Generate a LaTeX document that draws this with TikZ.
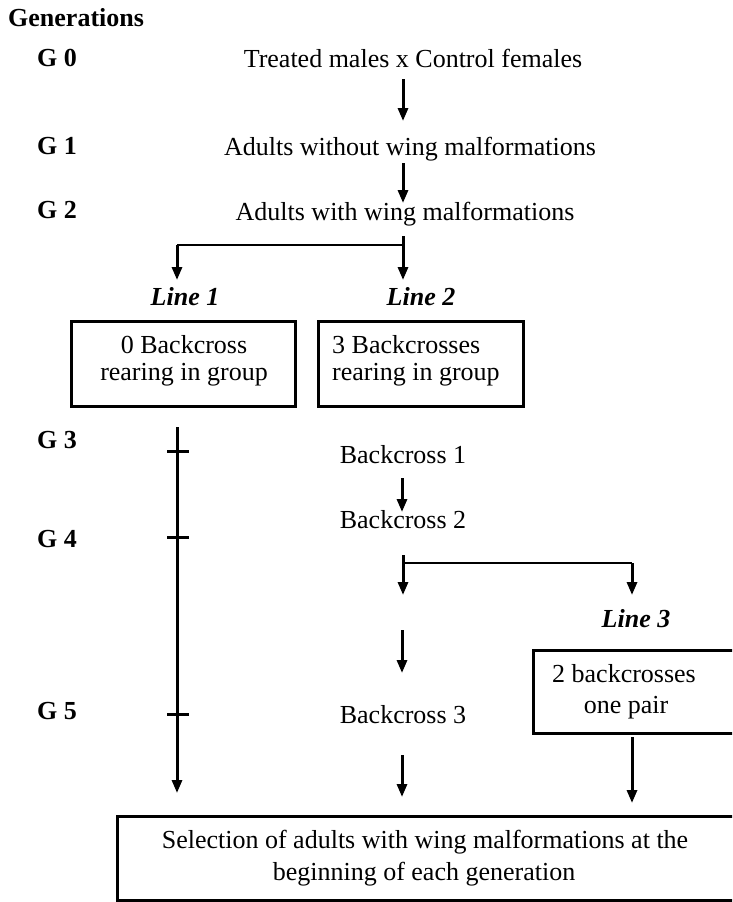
\documentclass[tikz,border=0pt]{standalone}
\usepackage{fontspec}
\setmainfont{Liberation Serif}
\usetikzlibrary{arrows.meta}
\begin{document}
\begin{tikzpicture}[x=1pt,y=-1pt,
  txt/.style={font=\fontsize{26}{30}\selectfont, inner sep=0pt, anchor=base},
  txtl/.style={txt, anchor=base west},
  gen/.style={font=\fontsize{26}{30}\selectfont\bfseries, inner sep=0pt, anchor=base west},
  linelab/.style={font=\fontsize{26}{30}\selectfont\bfseries\itshape, inner sep=0pt, anchor=base},
  framebox/.style={draw, line width=3pt, inner sep=0pt},
  arr/.style={line width=3pt, -{Triangle[width=10pt,length=13pt]}},
  thinline/.style={line width=2.5pt},
  tick/.style={line width=3pt}]
\useasboundingbox (0,0) rectangle (732,902);
\clip (0,0) rectangle (732,902);

% generation labels
\node[gen] (gens) at (8,26) {Generations};
\node[gen] (g0) at (37,66) {G 0};
\node[gen] (g1) at (37,154) {G 1};
\node[gen] (g2) at (37,218) {G 2};
\node[gen] (g3) at (37,448) {G 3};
\node[gen] (g4) at (37,547) {G 4};
\node[gen] (g5) at (37,719) {G 5};

% main texts
\node[txt] (t0) at (413,67) {Treated males x Control females};
\node[txt] (t1) at (410,155) {Adults without wing malformations};
\node[txt] (t2) at (405,220) {Adults with wing malformations};

\node[linelab] (l1) at (185,305) {Line 1};
\node[linelab] (l2) at (421,305) {Line 2};
\node[linelab] (l3) at (636,627) {Line 3};

% boxes
\node[framebox, minimum width=224pt, minimum height=85pt] (box1) at (183,364) {};
\node[framebox, minimum width=205pt, minimum height=85pt] (box2) at (420.5,364) {};
\node[framebox, minimum width=227pt, minimum height=83pt] (box3) at (646.5,691.5) {};
\node[framebox, minimum width=653pt, minimum height=84pt] (box4) at (443.5,858) {};

\node[txt] (b1a) at (184,353) {0 Backcross};
\node[txt] (b1b) at (184,380) {rearing in group};
\node[txtl] (b2a) at (332,353) {3 Backcrosses};
\node[txtl] (b2b) at (332,380) {rearing in group};
\node[txt] (b3a) at (624,682) {2 backcrosses};
\node[txt] (b3b) at (626,713) {one pair};
\node[txt] (s1) at (425,848) {Selection of adults with wing malformations at the};
\node[txt] (s2) at (424,880) {beginning of each generation};

\node[txt] (bc1) at (403,463) {Backcross 1};
\node[txt] (bc2) at (403,528) {Backcross 2};
\node[txt] (bc3) at (403,723) {Backcross 3};

% connector end points
\coordinate (a1s) at (403,79);  \coordinate (a1e) at (403,121);
\coordinate (a2s) at (403,163); \coordinate (a2e) at (403,203);
\coordinate (b1s) at (403,236); \coordinate (b1e) at (403,280);
\coordinate (b1j) at (403,245); \coordinate (b1k) at (177,245);
\coordinate (b1l) at (177,280);
\coordinate (v1s) at (177,427); \coordinate (v1e) at (177,793);
\coordinate (tk3) at (177,451); \coordinate (tk4) at (177,537);
\coordinate (tk5) at (177,714);
\coordinate (a3s) at (402,478); \coordinate (a3e) at (402,512);
\coordinate (b2s) at (403,555); \coordinate (b2e) at (403,595);
\coordinate (b2j) at (403,563); \coordinate (b2k) at (632,563);
\coordinate (b2l) at (632,595);
\coordinate (m1s) at (402,630); \coordinate (m1e) at (402,673);
\coordinate (m2s) at (402,755); \coordinate (m2e) at (402,797);
\coordinate (r1s) at (632,737); \coordinate (r1e) at (632,803);

% connectors
\draw[arr] (a1s) -- (a1e);
\draw[arr] (a2s) -- (a2e);
\draw[arr] (b1s) -- (b1e);
\draw[thinline] (b1j) -- (b1k);
\draw[arr] (b1k) -- (b1l);
\draw[arr] (v1s) -- (v1e);
\foreach \t in {tk3,tk4,tk5}
  \draw[tick] ([xshift=-10pt]\t) -- ([xshift=12pt]\t);
\draw[arr] (a3s) -- (a3e);
\draw[arr] (b2s) -- (b2e);
\draw[thinline] (b2j) -- (b2k);
\draw[arr] (b2k) -- (b2l);
\draw[arr] (m1s) -- (m1e);
\draw[arr] (m2s) -- (m2e);
\draw[arr] (r1s) -- (r1e);
\end{tikzpicture}
\end{document}
